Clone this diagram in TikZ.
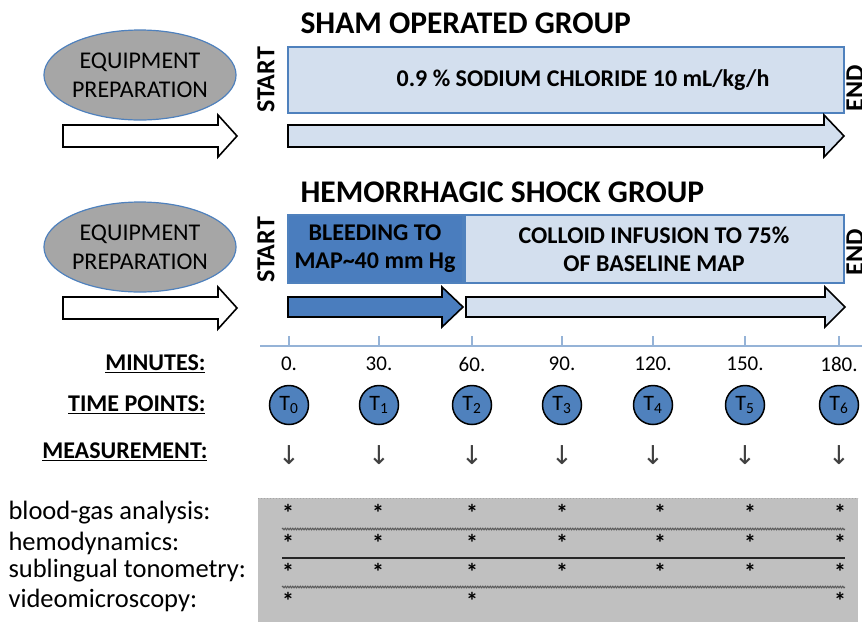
\documentclass[tikz,border=0pt]{standalone}
\usepackage{fontspec}
\setmainfont{Carlito}
\newfontfamily\arrowfont{DejaVu Sans}
\usetikzlibrary{shapes.geometric,decorations.pathmorphing}

\definecolor{paleblue}{HTML}{D3DFEE}
\definecolor{edgeblue}{HTML}{4F81BD}
\definecolor{bleedblue}{HTML}{4A7DBE}
\definecolor{axisblue}{HTML}{95B3D7}
\definecolor{prepgray}{HTML}{A6A6A6}
\definecolor{tablegray}{HTML}{C0C0C0}

\tikzset{
  phasebox/.style={draw=edgeblue, line width=1.2pt, fill=paleblue},
  bigarrow/.style={draw=black, line width=1.6pt, line join=miter},
  prep/.style={ellipse, draw=edgeblue, line width=1.2pt, fill=prepgray,
    minimum width=170pt, minimum height=90pt, inner sep=0pt, align=center,
    font=\fontsize{24}{29}\selectfont},
  heading/.style={anchor=west, font=\fontsize{31.5}{36}\selectfont\bfseries},
  boxtext/.style={align=center, font=\fontsize{24}{28}\selectfont\bfseries},
  sidetext/.style={rotate=90, font=\fontsize{26}{30}\selectfont\bfseries},
  rowlabel/.style={anchor=east, font=\fontsize{24}{28}\selectfont\bfseries},
  minute/.style={font=\fontsize{21}{25}\selectfont},
  tpoint/.style={circle, draw=black, line width=1.5pt, fill=edgeblue,
    minimum size=39pt, inner sep=0pt, font=\fontsize{22}{26}\selectfont},
  measure/.style={anchor=west, font=\fontsize{26.5}{30}\selectfont},
  star/.style={inner sep=0pt, font=\fontsize{24}{26}\selectfont\bfseries},
  wavy/.style={draw=black!65, line width=1pt,
    decorate, decoration={snake, amplitude=0.8pt, segment length=2.5pt}}
}

\begin{document}
\begin{tikzpicture}[x=1pt, y=-1pt]
    \useasboundingbox (0,0) rectangle (862,622);

    % sham group
    \node[heading] (shamhead) at (297,23) {SHAM OPERATED GROUP};
    \node[prep] (prep1) at (140,75) {EQUIPMENT\\PREPARATION};
    \draw[bigarrow, fill=white] (63,125) -- (218,125) -- (218,115) -- (237,136)
        -- (218,157) -- (218,147) -- (63,147) -- cycle;
    \node[sidetext] (start1) at (266,80) {START};
    \draw[phasebox] (288,47) rectangle (844,113);
    \node[boxtext] (saline) at (583,80) {0.9 \% SODIUM CHLORIDE 10 mL/kg/h};
    \node[sidetext] (end1) at (855,88) {END};
    \draw[bigarrow, fill=paleblue] (288,125) -- (824,125) -- (824,115) -- (844,136)
        -- (824,157) -- (824,147) -- (288,147) -- cycle;

    % shock group
    \node[heading] (shockhead) at (297,192) {HEMORRHAGIC SHOCK GROUP};
    \node[prep] (prep2) at (140,247) {EQUIPMENT\\PREPARATION};
    \draw[bigarrow, fill=white] (63,297) -- (218,297) -- (218,287) -- (237,308)
        -- (218,329) -- (218,319) -- (63,319) -- cycle;
    \node[sidetext] (start2) at (266,250) {START};
    \draw[phasebox, fill=bleedblue] (288,215) rectangle (463,283);
    \node[boxtext] (bleed) at (375,249) {BLEEDING TO\\MAP\textasciitilde 40 mm Hg};
    \draw[phasebox] (465,215) rectangle (844,283);
    \node[boxtext] (colloid) at (654,249) {COLLOID INFUSION TO 75\%\\OF BASELINE MAP};
    \node[sidetext] (end2) at (855,252) {END};
    \draw[bigarrow, fill=bleedblue] (288,297) -- (442,297) -- (442,287) -- (463,307)
        -- (442,327) -- (442,317) -- (288,317) -- cycle;
    \draw[bigarrow, fill=paleblue] (466,297) -- (825,297) -- (825,287) -- (845,307)
        -- (825,327) -- (825,317) -- (466,317) -- cycle;

    % time axis
    \draw[axisblue, line width=1.2pt] (260,346) -- (862,346);
    \foreach \x/\m/\i in {289/0./0, 379/30./1, 472/60./2, 562/90./3,
                          653/120./4, 745/150./5, 839/180./6} {
        \draw[axisblue, line width=1.2pt] (\x,336) -- (\x,346);
        \node[minute] (min\i) at (\x,364) {\m};
        \node[tpoint] (t\i) at (\x,405) {T\textsubscript{\i}};
        \node[font=\arrowfont\fontsize{26}{30}\selectfont, text=black!75] (m\i) at (\x,455) {↓};
    }

    % row labels
    \node[rowlabel] (minlabel) at (209,364) {\underline{MINUTES:}};
    \node[rowlabel] (tplabel) at (209,405) {\underline{TIME POINTS:}};
    \node[rowlabel] (mslabel) at (211,452) {\underline{MEASUREMENT:}};

    % measurement table
    \fill[tablegray] (258,498) rectangle (858,622);
    \draw[black!35, dotted, line width=1pt] (258,498) -- (858,498);
    \draw[wavy] (282,529) -- (845,529);
    \draw[black!85, line width=1.4pt] (282,558) -- (845,558);
    \draw[wavy] (282,587) -- (845,587);
    \node[measure] (bga) at (5,513) {blood-gas analysis:};
    \node[measure] (hemo) at (5,543) {hemodynamics:};
    \node[measure] (tono) at (5,571) {sublingual tonometry:};
    \node[measure] (video) at (5,600) {videomicroscopy:};
    \foreach \x in {288,378,472,562,660,750,840} {
        \node[star] at (\x,513) {*};
        \node[star] at (\x,543) {*};
        \node[star] at (\x,572) {*};
    }
    \foreach \x in {288,472,840}
        \node[star] at (\x,601) {*};
\end{tikzpicture}
\end{document}
